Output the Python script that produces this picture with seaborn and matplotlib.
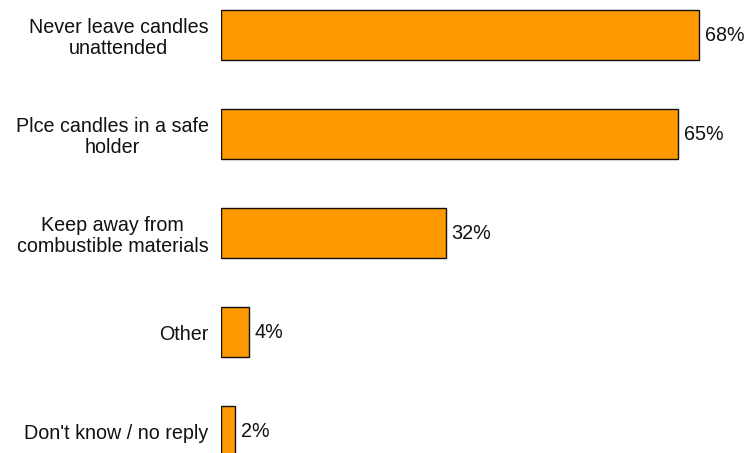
import matplotlib
matplotlib.use("Agg")
import matplotlib.pyplot as plt
import seaborn as sns
import pandas as pd

categories = [
    "Never leave candles\nunattended",
    "Plce candles in a safe\nholder",
    "Keep away from\ncombustible materials",
    "Other",
    "Don't know / no reply",
]
values = [68, 65, 32, 4, 2]

df = pd.DataFrame({"category": categories, "value": values})

sns.set_theme(style="white")
plt.rcParams["font.family"] = ["Liberation Sans", "DejaVu Sans"]

W, H = 747, 453
fig = plt.figure(figsize=(W / 100, H / 100), dpi=100)
ax = fig.add_axes([221 / W, 0, (W - 221) / W, 1])

sns.barplot(data=df, x="value", y="category", orient="h", color="#FF9900",
            saturation=1, width=0.505, edgecolor="#111111", linewidth=1.0, ax=ax)

ax.set_xlim(0, (W - 221) / 7.03)
ax.set_ylim(4.222, -0.354)
ax.set_xlabel("")
ax.set_ylabel("")
ax.set_xticks([])
for s in ax.spines.values():
    s.set_visible(False)

ax.tick_params(axis="y", length=0, pad=9)
for lab in ax.get_yticklabels():
    lab.set_fontsize(14.2)
    lab.set_multialignment("center")
    lab.set_linespacing(1.1)
    lab.set_color("#111111")

for i, v in enumerate(values):
    ax.annotate(f"{v}%", xy=(v, i), xytext=(4, 0), textcoords="offset points",
                va="center", ha="left", fontsize=14.2, color="#111111")

fig.savefig("out.png", dpi=100)
